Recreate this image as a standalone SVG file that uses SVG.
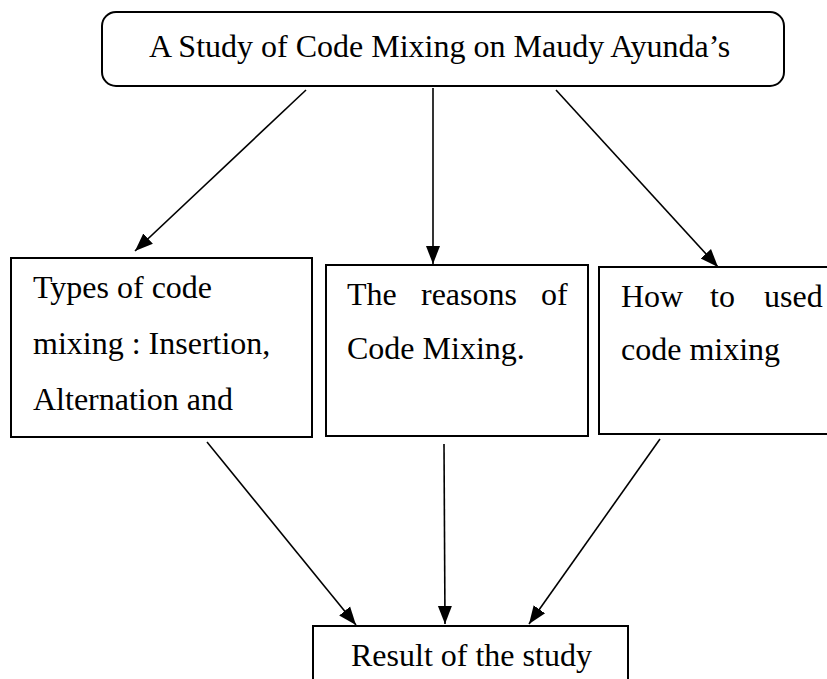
<svg xmlns="http://www.w3.org/2000/svg" width="827" height="679" viewBox="0 0 827 679">
<style>
  .box { fill: #ffffff; stroke: #000000; stroke-width: 2; }
  .t { font-family: "Liberation Serif", "Times New Roman", serif; font-size: 32px; fill: #000000; }
  .c { fill: none; stroke: #000000; stroke-width: 1.6; marker-end: url(#ah); }
</style>
<defs>
  <marker id="ah" markerUnits="userSpaceOnUse" markerWidth="20" markerHeight="20" viewBox="0 0 20 20" refX="18" refY="10" orient="auto">
    <path d="M0,3 L18,10 L0,17 Z" fill="#000000"/>
  </marker>
</defs>
<rect width="827" height="679" fill="#ffffff"/>
<g id="connectors">
  <line class="c" x1="306" y1="90" x2="135" y2="251"/>
  <line class="c" x1="433" y1="88" x2="433" y2="264"/>
  <line class="c" x1="556" y1="90" x2="718" y2="267"/>
  <line class="c" x1="207" y1="442" x2="356" y2="625"/>
  <line class="c" x1="444" y1="444" x2="445" y2="624"/>
  <line class="c" x1="660" y1="439" x2="529" y2="624"/>
</g>
<g id="node-title">
  <rect class="box" x="102" y="12" width="682" height="74" rx="14" ry="14"/>
  <text class="t" x="149" y="57">A Study of Code Mixing on Maudy Ayunda’s</text>
</g>
<g id="node-types">
  <rect class="box" x="11" y="258" width="301" height="179"/>
  <text class="t" x="33" y="298">Types of code</text>
  <text class="t" x="33" y="354">mixing : Insertion,</text>
  <text class="t" x="33" y="410">Alternation and</text>
</g>
<g id="node-reasons">
  <rect class="box" x="326" y="265" width="262" height="171"/>
  <text class="t" y="305"><tspan x="347">The</tspan><tspan x="421">reasons</tspan><tspan x="541">of</tspan></text>
  <text class="t" x="347" y="359">Code Mixing.</text>
</g>
<g id="node-how">
  <rect class="box" x="599" y="267" width="240" height="167"/>
  <text class="t" y="307"><tspan x="621">How</tspan><tspan x="710">to</tspan><tspan x="764">used</tspan></text>
  <text class="t" x="621" y="360">code mixing</text>
</g>
<g id="node-result">
  <rect class="box" x="313" y="626" width="315" height="70"/>
  <text class="t" x="351" y="666">Result of the study</text>
</g>
</svg>
